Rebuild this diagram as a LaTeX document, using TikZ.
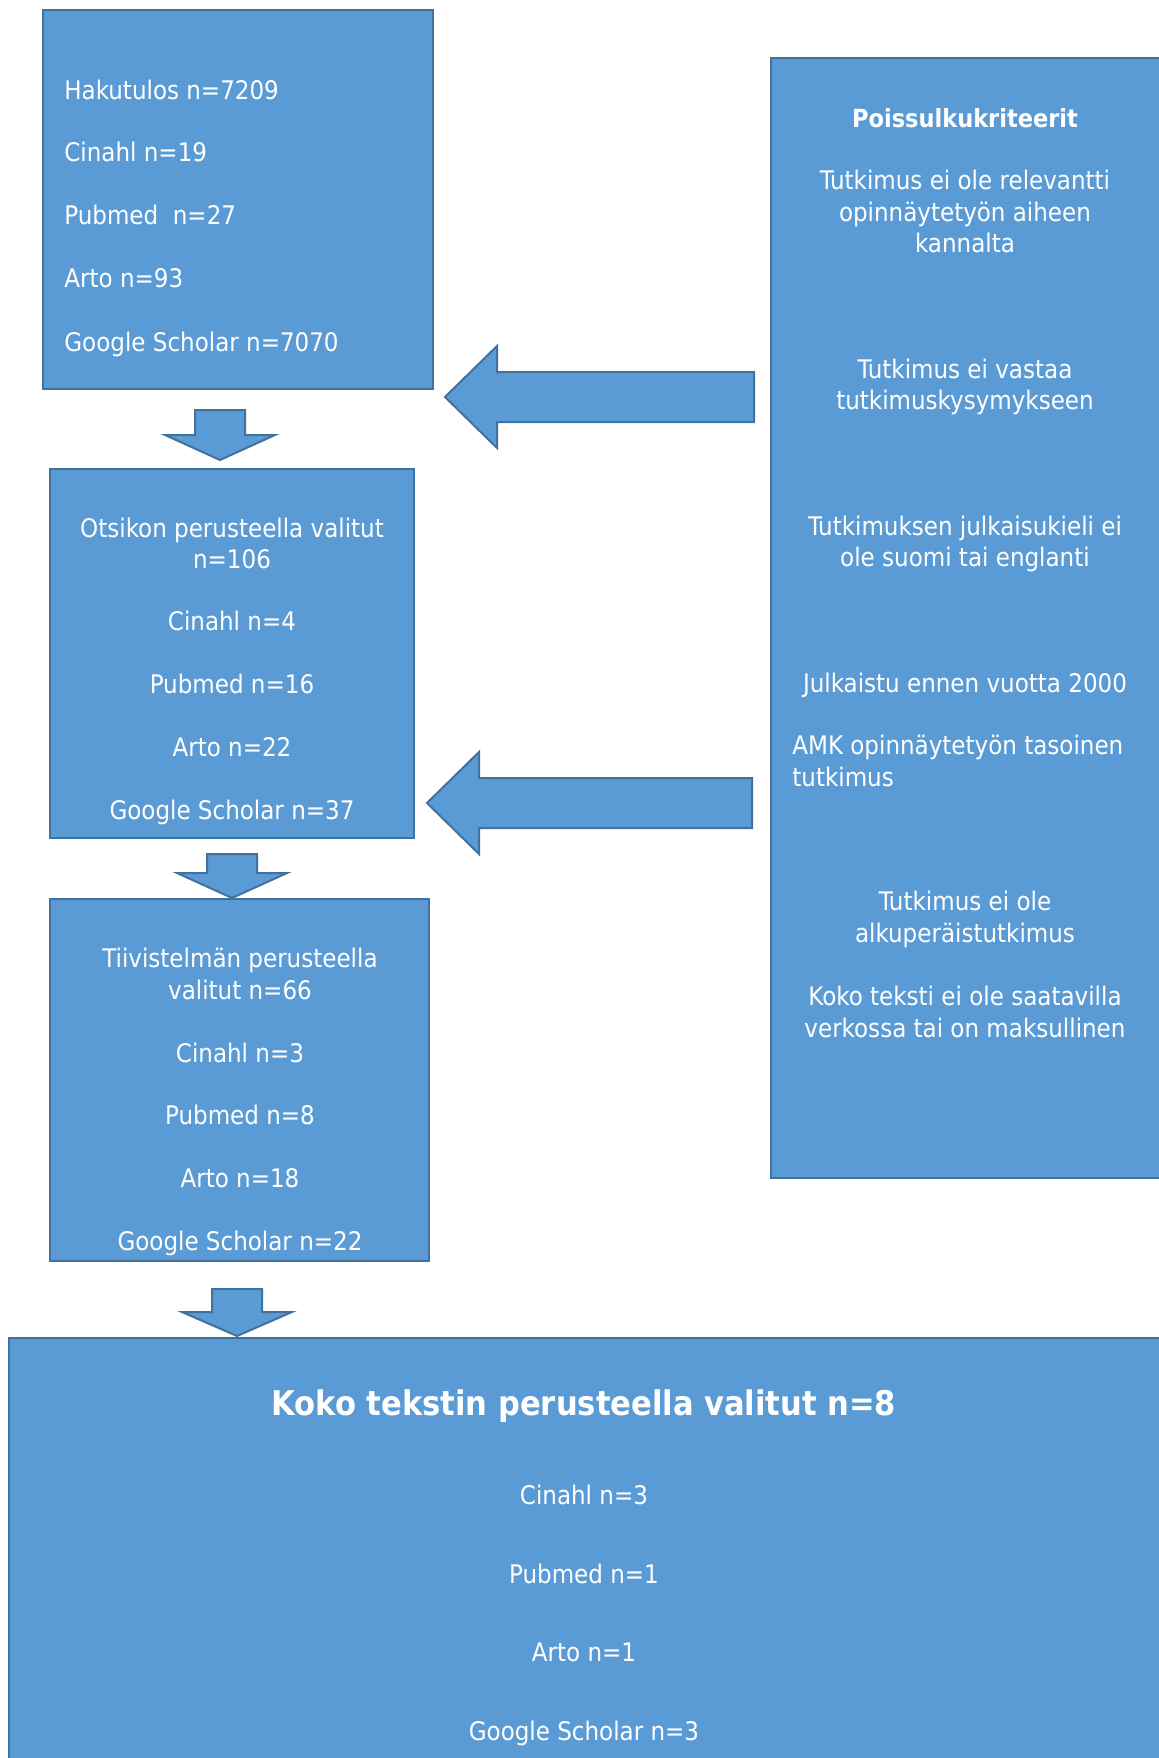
\documentclass[tikz,border=0pt]{standalone}
\usepackage{fontspec}
\setmainfont{DejaVu Sans Condensed}
\usetikzlibrary{fit}
\definecolor{boxfill}{HTML}{5B9BD5}
\definecolor{boxline}{HTML}{41719C}

\begin{document}
\begin{tikzpicture}[x=0.5pt,y=-0.5pt]
    \tikzstyle{box}=[draw=boxline,fill=boxfill,line width=1pt,inner sep=0pt]
    \tikzstyle{blockarrow}=[draw=boxline,fill=boxfill,line width=1pt,line join=miter]
    \tikzstyle{txt}=[text=white,inner sep=0pt,anchor=base,font=\fontsize{12.8}{15.7}\selectfont]
    \tikzstyle{otsikko}=[txt,font=\fontsize{12.5}{15.7}\selectfont\bfseries]
    \useasboundingbox (0,0) rectangle (1159,1758);
    % laatikot
    \node[box,fit={(43,10) (433,389)}] (haku) {};
    \node[box,fit={(50,469) (414,838)}] (otsikko) {};
    \node[box,fit={(50,899) (429,1261)}] (tiivis) {};
    \node[box,fit={(771,58) (1165,1178)}] (kriteerit) {};
    \node[box,fit={(9,1338) (1170,1775)}] (koko) {};
    % nuolet alas
    \foreach \cx/\top/\mid/\tip in {220/410/435/460, 232/854/873/898, 237/1289/1312/1336}
      \draw[blockarrow] (\cx-25,\top) -- (\cx+25,\top) -- (\cx+25,\mid) -- (\cx+55,\mid)
        -- (\cx,\tip) -- (\cx-55,\mid) -- (\cx-25,\mid) -- cycle;
    % nuolet vasemmalle
    \foreach \tx/\cy/\rx in {445/397/754, 427/803/752}
      \draw[blockarrow] (\rx,\cy-25) -- (\tx+52,\cy-25) -- (\tx+52,\cy-51) -- (\tx,\cy)
        -- (\tx+52,\cy+51) -- (\tx+52,\cy+25) -- (\rx,\cy+25) -- cycle;
    % tekstit
    \foreach \y/\t in {99/Hakutulos n=7209, 161/Cinahl n=19, 224/Pubmed\ \ n=27,
                       287/Arto n=93, 351/Google Scholar n=7070}
      \node[txt,anchor=base west] (haku\y) at (64,\y) {\t};
    \foreach \y/\t in {537/Otsikon perusteella valitut, 568/n=106, 630/Cinahl n=4,
                       693/Pubmed n=16, 756/Arto n=22, 819/Google Scholar n=37}
      \node[txt] (otsikko\y) at (232,\y) {\t};
    \begin{scope}
      \clip (50,899) rectangle (429,1255);
      \foreach \y/\t in {967/Tiivistelmän perusteella, 999/valitut n=66, 1062/Cinahl n=3,
                         1124/Pubmed n=8, 1187/Arto n=18, 1250/Google Scholar n=22}
        \node[txt] (tiivis\y) at (240,\y) {\t};
    \end{scope}
    \node[otsikko] (krit127) at (965,127) {Poissulkukriteerit};
    \foreach \y/\t in {189/Tutkimus ei ole relevantti, 221/opinnäytetyön aiheen, 252/kannalta,
                       378/Tutkimus ei vastaa, 409/tutkimuskysymykseen,
                       535/Tutkimuksen julkaisukieli ei, 566/ole suomi tai englanti,
                       692/Julkaistu ennen vuotta 2000,
                       910/Tutkimus ei ole, 942/alkuperäistutkimus,
                       1005/Koko teksti ei ole saatavilla, 1037/verkossa tai on maksullinen}
      \node[txt] (krit\y) at (965,\y) {\t};
    \foreach \y/\t in {754/AMK opinnäytetyön tasoinen, 786/tutkimus}
      \node[txt,anchor=base west] (krit\y) at (792,\y) {\t};
    \node[otsikko,font=\fontsize{17}{20}\selectfont\bfseries] (koko1415) at (584,1415)
      {Koko tekstin perusteella valitut n=8};
    \foreach \y/\t in {1504/Cinahl n=3, 1583/Pubmed n=1, 1661/Arto n=1, 1740/Google Scholar n=3}
      \node[txt] (koko\y) at (584,\y) {\t};
\end{tikzpicture}
\end{document}
